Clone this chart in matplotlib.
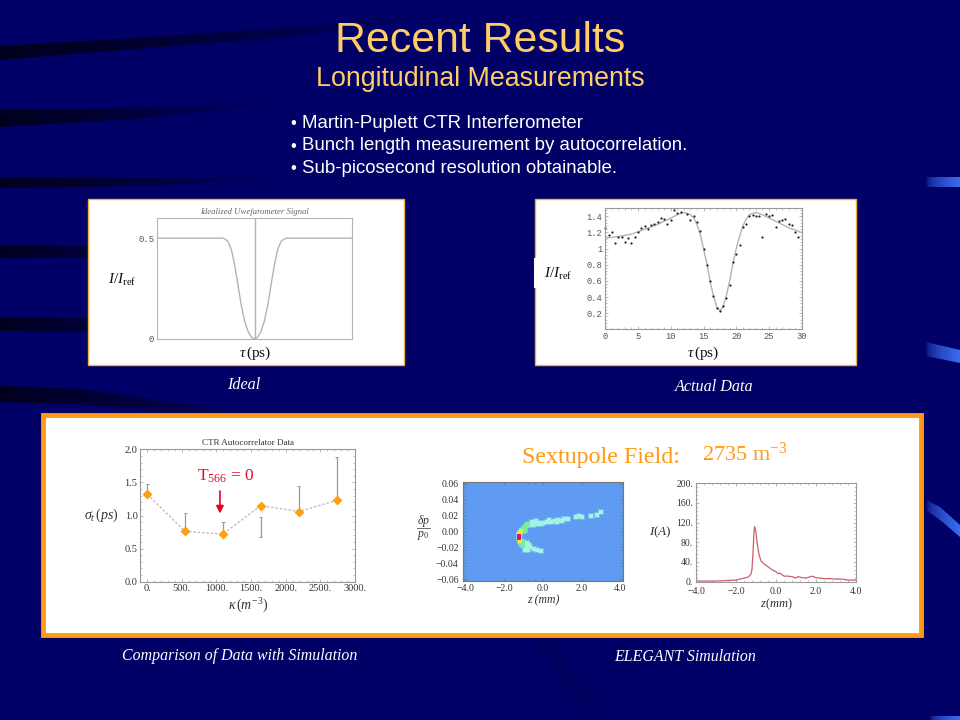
import numpy as np
import matplotlib
matplotlib.use("Agg")
import matplotlib.pyplot as plt
from matplotlib.patches import Rectangle, Polygon
from matplotlib.colors import to_rgb
from matplotlib.ticker import AutoMinorLocator

plt.rcParams['font.family'] = ['Liberation Serif', 'DejaVu Serif']
plt.rcParams['mathtext.fontset'] = 'custom'
plt.rcParams['mathtext.rm'] = 'Liberation Serif'
plt.rcParams['mathtext.it'] = 'Liberation Serif:italic'
plt.rcParams['mathtext.bf'] = 'Liberation Serif:bold'
plt.rcParams['mathtext.fallback'] = 'stix'

W, H = 960, 720
NAVY = '#000066'
ORANGE = '#ff9a14'
GOLD = '#ffcc66'
GREY = '#b4b4b4'

# ideal signal
ideal_tau = [-6, -1.92, -1.64, -1.43, -1.23, -1.02, -0.82, -0.61, -0.41, -0.2, 0,
             0.2, 0.41, 0.61, 0.82, 1.02, 1.23, 1.43, 1.64, 1.92, 6]
ideal_val = [0.5, 0.5, 0.485, 0.445, 0.37, 0.27, 0.17, 0.09, 0.04, 0.01, 0,
             0.01, 0.04, 0.09, 0.17, 0.27, 0.37, 0.445, 0.485, 0.5, 0.5]

# measured signal
dots_t = [0, .5, 1, 1.5, 2, 2.5, 3, 3.5, 4, 4.5, 5, 5.5, 6, 6.5, 7, 7.5, 8, 8.5, 9, 9.5,
          10, 10.5, 11, 11.5, 12.5, 13, 13.5, 14, 14.5, 15, 15.5, 16, 16.5, 17, 17.5, 18,
          18.5, 19, 19.5, 20, 20.5, 21, 21.5, 22, 22.5, 23, 23.5, 24, 24.5, 25, 25.5, 26,
          26.5, 27, 27.5, 28, 28.5, 29, 29.5]
dots_i = [1.25, 1.17, 1.2, 1.07, 1.15, 1.15, 1.08, 1.13, 1.07, 1.14, 1.2, 1.25, 1.28, 1.24,
          1.29, 1.3, 1.33, 1.38, 1.37, 1.3, 1.35, 1.48, 1.44, 1.46, 1.43, 1.36, 1.4, 1.33,
          1.22, .99, .8, .6, .41, .26, .23, .29, .39, .55, .83, .93, 1.04, 1.27, 1.31, 1.41,
          1.42, 1.41, 1.41, 1.14, 1.43, 1.41, 1.42, 1.27, 1.34, 1.36, 1.37, 1.3, 1.29, 1.2, 1.14]
fit_t = [0, 2, 4, 6, 8, 10, 11, 12, 13, 13.5, 14, 14.5, 15, 15.5, 16, 16.5, 17, 17.5, 18, 18.5,
         19, 19.5, 20, 20.5, 21, 21.5, 22, 23, 24, 25, 26, 27, 28, 29, 30]
fit_i = [1.13, 1.15, 1.18, 1.24, 1.3, 1.38, 1.42, 1.45, 1.42, 1.38, 1.3, 1.18, 1.0, .82, .6, .42,
         .28, .23, .28, .42, .6, .82, 1.0, 1.15, 1.28, 1.36, 1.42, 1.45, 1.42, 1.38, 1.34, 1.3,
         1.26, 1.23, 1.2]

# autocorrelator data
kappa = [0, 547, 1094, 1641, 2188, 2735]
sigma = [1.32, 0.76, 0.72, 1.15, 1.06, 1.23]
err_lo = [1.32, 0.76, 0.72, 0.67, 1.06, 1.23]
err_hi = [1.47, 1.04, 0.90, 0.98, 1.44, 1.88]

# phase space cells: z, dp, level
cell_z = [-.92, -.75, -.48, -.3, -.1, -.9, -.85, -.7, -.65, -.8, -.75, -.6, -.4, -.2, 0, .2, .4, .6, .8, 1.1, 1.3,
          1.7, 1.85, 2.0, 2.5, 2.8, 3.0, -.55, -.35, -.1, .3, .7, 1.0, -.5, -.3,
          -1.15, -1.05, -1.1, -1.0, -.9, -.95, -.8, -1.2, -1.15, -1.25, -1.05, -1.0,
          -1.2, -1.2, -1.15, -1.25, -1.25, -1.22]
cell_dp = [-.024, -.024, -.022, -.023, -.025, -.019, -.015, -.017, -.02, -.021, .008, .009, .01, .011, .011, .012, .012,
           .013, .014, .015, .016, .018, .019, .018, .019, .021, .024, .0115, .0125, .0095, .0145, .0115, .0125, .0075, .0095,
           -.016, -.018, .002, .004, .007, .0015, .009, -.012, -.014, -.008, -.014, .0,
           -.002, -.012, .0, -.006, -.009, -.003]
cell_lv = [0] * 35 + [1] * 12 + [2, 2, 2, 3, 3, 2]
level_colours = ['#a4f4e4', '#74f09a', '#ecec40', '#e8105a']

# current profile
prof_z = [-4, -3, -2.5, -2, -1.8, -1.6, -1.4, -1.25, -1.2, -1.15, -1.1, -1.07, -1.0, -.95, -.85,
          -.75, -.6, -.4, -.2, 0, .1, .2, .3, .4, .6, .8, 1, 1.1, 1.3, 1.5, 1.8, 2, 2.4, 2.7, 3,
          3.3, 3.6, 4]
prof_i = [1, 1, 2, 3, 5, 7, 9, 15, 25, 60, 100, 112, 100, 80, 55, 42, 36, 30, 24, 20, 16, 17, 14,
          11, 11, 10, 7, 10, 8, 7, 11, 8, 6, 6, 5, 5, 3, 3]

# background streaks
streaks = [
    [(0, 46), (150, 37), (300, 27), (470, 9), (300, 36), (150, 48), (0, 60)],
    [(0, 110), (150, 108), (300, 101), (150, 118), (0, 127)],
    [(0, 177), (150, 178), (300, 178), (150, 186), (0, 188)],
    [(0, 245), (88, 246), (200, 250), (88, 258), (0, 258)],
    [(0, 317), (88, 318), (200, 322), (88, 332), (0, 331)],
    [(0, 386), (80, 389), (180, 403), (290, 425), (180, 412), (80, 404), (0, 402)],
]
tabs = [
    [(926, 177), (960, 177), (960, 187), (926, 187)],
    [(926, 342), (960, 350), (960, 363), (926, 356)],
    [(926, 500), (940, 507), (960, 525), (960, 537), (940, 520), (926, 510)],
    [(930, 716), (960, 716), (960, 720), (930, 720)],
]


def fig_axes(fig, left, top, right, bottom):
    return fig.add_axes([left / W, 1 - bottom / H, (right - left) / W, (bottom - top) / H])


def gradient_poly(ax, pts, c0, a0, c1, a1, power=1.0):
    # horizontal colour/alpha ramp clipped by a polygon
    xs = [p[0] for p in pts]
    ys = [p[1] for p in pts]
    ramp = np.zeros((2, 64, 4))
    ramp[:, :, :3] = np.linspace(to_rgb(c0), to_rgb(c1), 64)
    ramp[:, :, 3] = a0 + (a1 - a0) * np.linspace(0, 1, 64) ** power
    poly = Polygon(pts, closed=True, fc='none', ec='none')
    ax.add_patch(poly)
    im = ax.imshow(ramp, extent=[min(xs), max(xs), max(ys), min(ys)], aspect='auto', zorder=1)
    im.set_clip_path(poly)


def style_axes(ax, colour, size, labelcolour='#333333', family=None):
    for s in ax.spines.values():
        s.set_color(colour)
        s.set_linewidth(0.8)
    ax.tick_params(which='both', direction='in', top=True, right=True, color=colour,
                   labelcolor=labelcolour, labelsize=size, pad=2)
    ax.tick_params(which='major', length=2.5, width=0.5)
    ax.tick_params(which='minor', length=1.2, width=0.4)
    ax.xaxis.set_minor_locator(AutoMinorLocator(5))
    ax.yaxis.set_minor_locator(AutoMinorLocator(5))
    if family:
        for t in ax.get_xticklabels() + ax.get_yticklabels():
            t.set_family(family)


fig = plt.figure(figsize=(W / 100, H / 100), dpi=100, facecolor=NAVY)
bg = fig.add_axes([0, 0, 1, 1])
bg.set_xlim(0, W)
bg.set_ylim(H, 0)
bg.axis('off')

for pts in streaks:
    gradient_poly(bg, pts, '#00001e', 1.0, '#000050', 0.0, power=2.2)
gradient_poly(bg, [(535, 640), (552, 640), (612, 720), (590, 720)], '#000058', 0.6, '#00005c', 0.4)
for pts in tabs:
    gradient_poly(bg, pts, '#3a6cf0', 0.05, '#3a6cf0', 1.0, power=0.5)

# panels
bg.add_patch(Rectangle((88, 199), 316, 166, fc='white', ec='#f0b040', lw=1, zorder=2))
bg.add_patch(Rectangle((535, 199), 321, 166, fc='white', ec='#f0b040', lw=1, zorder=2))
bg.add_patch(Rectangle((534, 258), 4, 30, fc='white', ec='none', zorder=3))
bg.add_patch(Rectangle((42.5, 414.5), 878, 220, fc='white', ec=ORANGE, lw=3.5, zorder=2))

# header text
sans = ['Liberation Sans', 'DejaVu Sans']
bg.text(480, 41, 'Recent Results', color=GOLD, family=sans, fontsize=30.8, ha='center', va='center', zorder=5)
bg.text(480, 79, 'Longitudinal Measurements', color=GOLD, family=sans, fontsize=19.3, ha='center', va='center', zorder=5)
bullets = ['Martin-Puplett CTR Interferometer', 'Bunch length measurement by autocorrelation.',
           'Sub-picosecond resolution obtainable.']
for i, line in enumerate(bullets):
    y = 123.5 + i * 22.5
    bg.text(290, y, '\u2022', color='white', family=sans, fontsize=12, va='center', zorder=5)
    bg.text(302, y, line, color='white', family=sans, fontsize=13.4, va='center', zorder=5)

# captions
for x, y, txt, fs in [(244, 385, 'Ideal', 11.6), (714, 387, 'Actual Data', 11.6),
                      (240, 656, 'Comparison of Data with Simulation', 11.4),
                      (685, 657, 'ELEGANT Simulation', 11.4)]:
    bg.text(x, y, txt, color='white', style='italic', fontsize=fs, ha='center', va='center', zorder=5)

# labels set on the white panels
bg.text(122, 280, r'$I/I_{\mathrm{ref}}$', color='#111111', fontsize=11, ha='center', va='center', zorder=5)
bg.text(255, 353, r'$\tau\,$(ps)', color='#111111', fontsize=11, ha='center', va='center', zorder=5)
bg.text(558, 274, r'$I/I_{\mathrm{ref}}$', color='#111111', fontsize=11, ha='center', va='center', zorder=5)
bg.text(703, 353, r'$\tau\,$(ps)', color='#111111', fontsize=11, ha='center', va='center', zorder=5)
bg.text(600.5, 457, 'Sextupole Field:', color=ORANGE, fontsize=17.3, ha='center', va='center', zorder=5)
bg.text(702, 454, r'2735 m$^{\mathrm{-3}}$', color=ORANGE, fontsize=16, ha='left', va='center', zorder=5)

# ideal plot
ax1 = fig_axes(fig, 157, 218, 352, 339)
ax1.plot(ideal_tau, ideal_val, color=GREY, lw=1)
ax1.axvline(0, color=GREY, lw=1)
ax1.set_xlim(-6, 6)
ax1.set_ylim(0, 0.6)
ax1.set_xticks([])
ax1.set_yticks([0, 0.5], ['0', '0.5'])
for s in ax1.spines.values():
    s.set_color(GREY)
ax1.tick_params(axis='y', length=0, labelsize=6.5, labelcolor='#555555', pad=2)
for t in ax1.get_yticklabels():
    t.set_family('Liberation Mono')
ax1.set_title('Idealized Uwefarometer Signal', fontsize=6.3, style='italic', color='#666666', pad=3)

# measured plot
ax2 = fig_axes(fig, 605.3, 208.3, 801.7, 329.3)
ax2.plot(fit_t, fit_i, color=GREY, lw=1)
ax2.plot(dots_t, dots_i, ls='none', marker='o', ms=1.6, mew=0, color='#222222', clip_on=False)
ax2.set_xlim(0, 30)
ax2.set_ylim(0, 1.5)
ax2.set_xticks([0, 5, 10, 15, 20, 25, 30])
ax2.set_yticks([0.2, 0.4, 0.6, 0.8, 1, 1.2, 1.4], ['0.2', '0.4', '0.6', '0.8', '1', '1.2', '1.4'])
style_axes(ax2, '#999999', 6.3, '#555555', 'Liberation Mono')

# autocorrelator plot
ax3 = fig_axes(fig, 140.3, 449.3, 355, 581.7)
ax3.vlines(kappa, err_lo, err_hi, color='#999999', lw=0.9, zorder=2)
ax3.hlines(err_hi, np.array(kappa) - 22, np.array(kappa) + 22, color='#999999', lw=0.7, zorder=2)
ax3.hlines(err_lo[3], kappa[3] - 22, kappa[3] + 22, color='#999999', lw=0.7, zorder=2)
ax3.plot(kappa, sigma, color='#b8b8b8', ls=(0, (2, 1.5)), lw=0.9, zorder=3)
ax3.plot(kappa, sigma, ls='none', marker='D', ms=5, color='#ffa010', mec='none', zorder=4, clip_on=False)
ax3.set_xlim(-100, 3000)
ax3.set_ylim(0, 2)
ax3.set_xticks([0, 500, 1000, 1500, 2000, 2500, 3000],
               ['0.', '500.', '1000.', '1500.', '2000.', '2500.', '3000.'])
ax3.set_yticks([0, 0.5, 1, 1.5, 2], ['0.0', '0.5', '1.0', '1.5', '2.0'])
style_axes(ax3, '#999999', 7.5)
ax3.set_title('CTR Autocorrelator Data', fontsize=6.5, color='#333333', pad=3)
ax3.set_xlabel(r'$\kappa\,(m^{-3})$', fontsize=10, color='#333333', labelpad=2.5)
ax3.set_ylabel(r'$\sigma_t\,(ps)$', fontsize=10, color='#333333', rotation=0, labelpad=17, va='center')
ax3.text(1137, 1.59, r'T$_{566}$ = 0', color='#e01030', fontsize=12.5, ha='center', va='center')
ax3.annotate('', xy=(1050, 1.03), xytext=(1050, 1.37),
             arrowprops=dict(arrowstyle='-|>', color='#e8002a', lw=1.2, mutation_scale=11, shrinkA=0, shrinkB=0))

# phase space plot
ax4 = fig_axes(fig, 462.7, 481.7, 623.3, 581)
ax4.set_facecolor('#5f9bf2')
cell_z = np.array(cell_z)
cell_dp = np.array(cell_dp)
cell_lv = np.array(cell_lv)
ax4.scatter(cell_z, cell_dp, s=13, marker='s', color='#8fdcf0', alpha=0.45, lw=0, zorder=2)
for lv, col in enumerate(level_colours):
    keep = cell_lv == lv
    ax4.scatter(cell_z[keep], cell_dp[keep], s=5 if lv < 3 else 8, marker='s', color=col, lw=0, zorder=3 + lv)
ax4.set_xlim(-4.15, 4.15)
ax4.set_ylim(-0.0625, 0.0625)
ax4.set_xticks([-4, -2, 0, 2, 4], ['\u22124.0', '\u22122.0', '0.0', '2.0', '4.0'])
ax4.set_yticks([-.06, -.04, -.02, 0, .02, .04, .06],
               ['\u22120.06', '\u22120.04', '\u22120.02', '0.00', '0.02', '0.04', '0.06'])
style_axes(ax4, '#777777', 7)
ax4.tick_params(axis='y', pad=3)
ax4.set_xlabel('z (mm)', fontsize=8.5, style='italic', color='#333333', labelpad=1)
bg.text(423, 521, r'$\delta p$', fontsize=8.5, color='#333333', ha='center', va='center', zorder=5)
bg.plot([417, 430], [527.5, 527.5], color='#555555', lw=0.6, zorder=5)
bg.text(423, 535, r'$p_0$', fontsize=8.5, color='#333333', ha='center', va='center', zorder=5)

# current profile plot
ax5 = fig_axes(fig, 696, 483.3, 856, 582.3)
ax5.plot(prof_z, prof_i, color='#c8606c', lw=0.9)
ax5.set_xlim(-4, 4)
ax5.set_ylim(-1.5, 200)
ax5.set_xticks([-4, -2, 0, 2, 4], ['\u22124.0', '\u22122.0', '0.0', '2.0', '4.0'])
ax5.set_yticks([0, 40, 80, 120, 160, 200], ['0.', '40.', '80.', '120.', '160.', '200.'])
style_axes(ax5, '#999999', 7)
ax5.tick_params(axis='x', pad=3.5)
ax5.set_xlabel(r'$z(mm)$', fontsize=9, color='#333333', labelpad=0)
bg.text(660, 532, r'$I(A)$', fontsize=9.5, color='#333333', ha='center', va='center', zorder=5)

bg.set_xlim(0, W)
bg.set_ylim(H, 0)
fig.savefig('out.png', dpi=100, facecolor=NAVY)
